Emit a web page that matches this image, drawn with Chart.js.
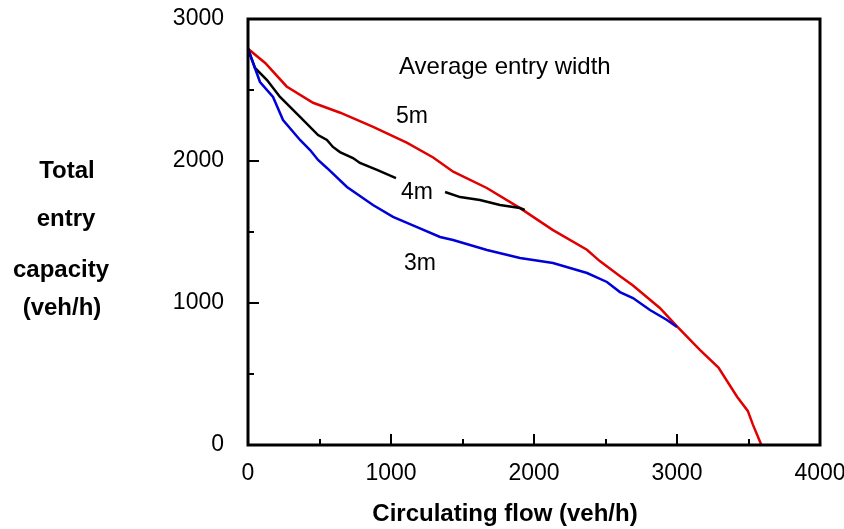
<!DOCTYPE html>
<html>
<head>
<meta charset="utf-8">
<script src="https://cdn.jsdelivr.net/npm/chart.js@4.4.0/dist/chart.umd.min.js"></script>
<style>
  body { margin: 0; background: #fff; }
  #wrap { width: 844px; height: 529px; position: relative; }
</style>
</head>
<body>
<div id="wrap"><canvas id="chart" width="844" height="529"></canvas></div>
<script>
// circulating flow (veh/h) vs total entry capacity (veh/h)
const flow5m = [0, 120, 270, 455, 645, 875, 1110, 1295, 1435, 1670, 1900, 2130, 2370, 2460, 2600, 2690, 2880, 3000, 3160, 3290, 3420, 3495, 3530, 3590];
const cap5m  = [2790, 2690, 2525, 2410, 2340, 2240, 2130, 2025, 1925, 1810, 1670, 1515, 1375, 1295, 1190, 1125, 965, 835, 670, 545, 340, 240, 145, 0];

const flow4mA = [0, 49, 133, 224, 364, 490, 552, 594, 643, 734, 783, 902, 1035];
const cap4mA  = [2790, 2655, 2570, 2451, 2310, 2183, 2148, 2099, 2063, 2021, 1986, 1937, 1880];
const flow4mB = [1378, 1483, 1622, 1762, 1902, 1935];
const cap4mB  = [1782, 1746, 1725, 1690, 1669, 1655];

const flow3m = [0, 28, 84, 175, 245, 364, 434, 490, 552, 692, 874, 1014, 1182, 1343, 1434, 1671, 1902, 2133, 2371, 2510, 2601, 2692, 2811, 2930, 3000];
const cap3m  = [2790, 2711, 2556, 2451, 2289, 2148, 2077, 2007, 1951, 1817, 1690, 1606, 1535, 1465, 1444, 1373, 1317, 1282, 1211, 1148, 1077, 1035, 951, 880, 831];

const xTicks = [0, 1000, 2000, 3000, 4000];
const xMinor = [500, 1500, 2500, 3500];
const yTicks = [0, 1000, 2000, 3000];
const yMinor = [500, 1500, 2500];

const FONT = "'Liberation Sans', Arial, sans-serif";

function pts(xs, ys) {
  return xs.map((x, i) => ({ x: x, y: ys[i] }));
}

function line(data, color) {
  return {
    data: data,
    borderColor: color,
    borderWidth: 2.5,
    pointRadius: 0,
    showLine: true,
    fill: false,
    tension: 0
  };
}

// frame, inside ticks, and the free text
const extras = {
  id: "extras",
  afterDraw(chart) {
    const ctx = chart.ctx;
    const a = chart.chartArea;
    const xs = chart.scales.x;
    const ys = chart.scales.y;
    ctx.save();
    ctx.strokeStyle = "#000";
    ctx.lineWidth = 3;
    ctx.strokeRect(a.left, a.top, a.right - a.left, a.bottom - a.top);

    ctx.lineWidth = 2;
    ctx.beginPath();
    xTicks.forEach(v => {
      const p = Math.round(xs.getPixelForValue(v));
      ctx.moveTo(p, a.bottom); ctx.lineTo(p, a.bottom - 11);
    });
    xMinor.forEach(v => {
      const p = Math.round(xs.getPixelForValue(v));
      ctx.moveTo(p, a.bottom); ctx.lineTo(p, a.bottom - 6);
    });
    yTicks.forEach(v => {
      const p = Math.round(ys.getPixelForValue(v));
      ctx.moveTo(a.left, p); ctx.lineTo(a.left + 11, p);
    });
    yMinor.forEach(v => {
      const p = Math.round(ys.getPixelForValue(v));
      ctx.moveTo(a.left, p); ctx.lineTo(a.left + 6, p);
    });
    ctx.stroke();

    ctx.fillStyle = "#000";
    ctx.textBaseline = "middle";
    ctx.textAlign = "left";
    ctx.font = "24px " + FONT;
    ctx.fillText("Average entry width", 399, 67);
    ctx.font = "23px " + FONT;
    ctx.fillText("5m", 396, 117);
    ctx.fillText("4m", 401, 193);
    ctx.fillText("3m", 404, 264);

    ctx.font = "bold 24px " + FONT;
    ctx.textAlign = "center";
    ctx.fillText("Total", 67, 171);
    ctx.fillText("entry", 66, 219);
    ctx.fillText("capacity", 61, 270);
    ctx.fillText("(veh/h)", 62, 308);
    ctx.fillText("Circulating flow (veh/h)", 505, 514);
    ctx.restore();
  }
};

chart = new Chart(document.getElementById("chart"), {
  type: "scatter",
  data: {
    datasets: [
      line(pts(flow3m, cap3m), "#0000d8"),
      line(pts(flow4mA, cap4mA), "#000000"),
      line(pts(flow4mB, cap4mB), "#000000"),
      line(pts(flow5m, cap5m), "#e00000")
    ]
  },
  options: {
    responsive: false,
    animation: false,
    layout: { padding: { top: 19, right: 24, left: 0, bottom: 0 } },
    plugins: {
      legend: { display: false },
      tooltip: { enabled: false }
    },
    scales: {
      x: {
        type: "linear",
        min: 0,
        max: 4000,
        afterFit: s => { s.height = 84; s.paddingLeft = 0; s.paddingRight = 0; },
        afterBuildTicks: s => { s.ticks = xTicks.map(v => ({ value: v })); },
        grid: { display: false, drawTicks: false },
        border: { display: false },
        ticks: { color: "#000", padding: 15, maxRotation: 0, callback: v => String(v), font: { family: FONT, size: 23 } }
      },
      y: {
        type: "linear",
        min: 0,
        max: 3000,
        afterFit: s => { s.width = 248; s.paddingTop = 0; s.paddingBottom = 0; },
        afterBuildTicks: s => { s.ticks = yTicks.map(v => ({ value: v })); },
        grid: { display: false, drawTicks: false },
        border: { display: false },
        ticks: { color: "#000", padding: 24, callback: v => String(v), font: { family: FONT, size: 23 } }
      }
    }
  },
  plugins: [extras]
});
</script>
</body>
</html>
